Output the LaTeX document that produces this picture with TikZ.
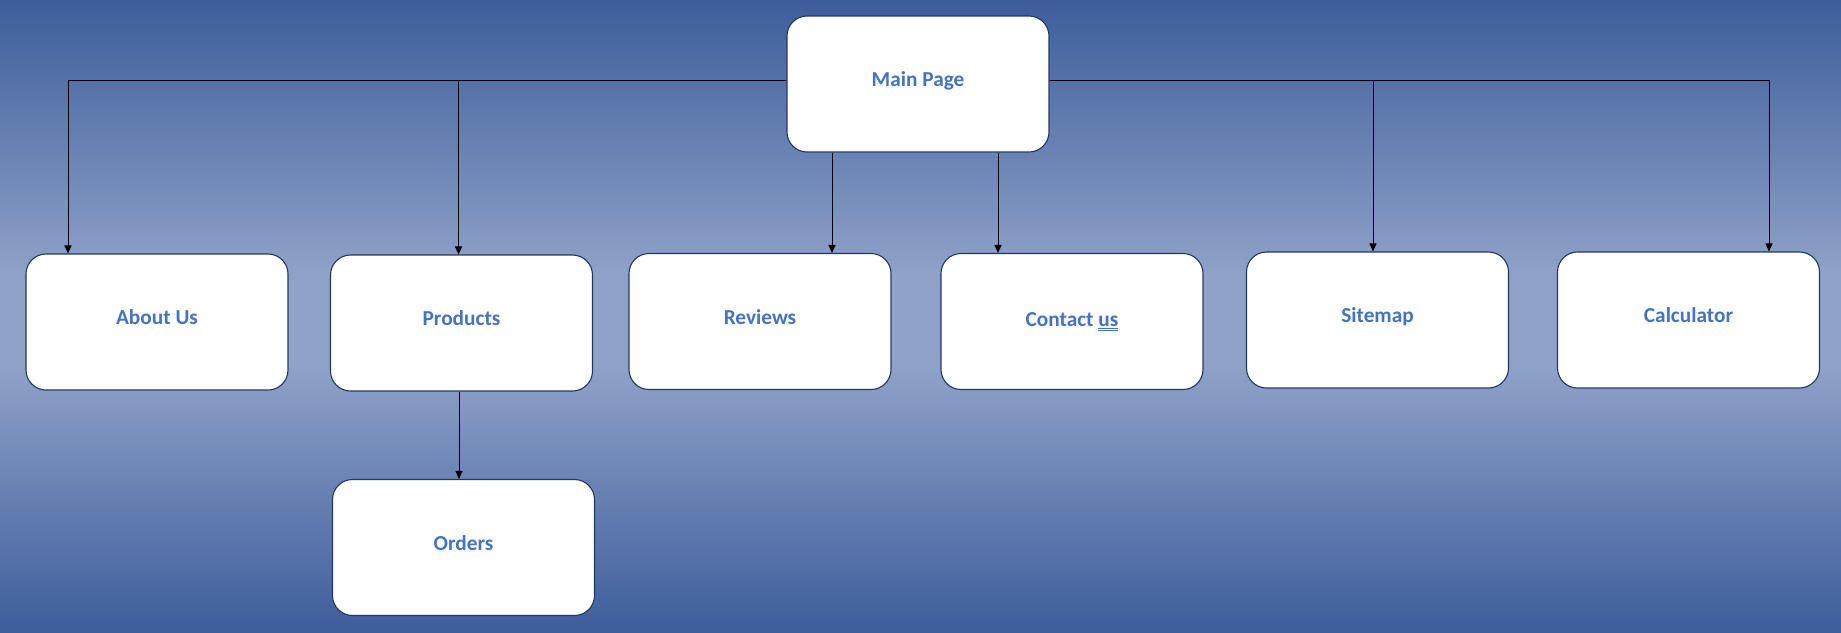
\documentclass[tikz,border=0pt]{standalone}
\usepackage{fontspec}
\setmainfont{Carlito}
\usetikzlibrary{arrows.meta}
\definecolor{bgdark}{RGB}{61,93,155}
\definecolor{bglight}{RGB}{143,162,200}
\definecolor{boxline}{RGB}{31,56,100}
\definecolor{txtblue}{RGB}{68,114,196}
\newcommand\dblul[1]{\leavevmode\vtop{\hbox{#1}\kern1.6pt\hrule height0.9pt\kern1.3pt\hrule height0.9pt}}
\begin{document}
\begin{tikzpicture}[x=1pt,y=-1pt,
  pagebox/.style={draw=boxline, line width=1.1pt, fill=white, rounded corners=20pt,
    minimum width=262pt, minimum height=136pt, inner sep=0pt,
    text height=13pt, text depth=8pt,
    text=txtblue, font=\fontsize{21.3}{25}\selectfont\bfseries},
  conn/.style={draw=black, line width=1pt, -{Triangle[length=8pt,width=7pt]}}]
\useasboundingbox (0,0) rectangle (1841,632);
\shade[top color=bgdark, bottom color=bglight] (0,0) rectangle (1841,275);
\fill[bglight] (0,274) rectangle (1841,366);
\shade[top color=bglight, bottom color=bgdark] (0,365) rectangle (1841,632);

\node[pagebox] (main) at (918,84) {Main Page};
\node[pagebox] (about) at (157,322) {About Us};
\node[pagebox] (products) at (461.5,323) {Products};
\node[pagebox] (orders) at (463.5,547.5) {Orders};
\node[pagebox] (reviews) at (760,321.5) {Reviews};
\node[pagebox, text height=18pt] (contact) at (1072,321.5) {Contact \dblul{us}};
\node[pagebox] (sitemap) at (1377.5,320) {Sitemap};
\node[pagebox] (calc) at (1688.5,320) {Calculator};

\coordinate (L) at ([yshift=4pt]main.west);
\coordinate (R) at ([yshift=4pt]main.east);
\draw[conn] (L) -| ([xshift=-89pt]about.north);
\draw[conn] ([xshift=-3pt]products.north |- L) -- ([xshift=-3pt]products.north);
\draw[conn] ([xshift=72pt]reviews.north |- main.south) -- ([xshift=72pt]reviews.north);
\draw[conn] ([xshift=-74pt]contact.north |- main.south) -- ([xshift=-74pt]contact.north);
\draw[conn] (R) -| ([xshift=80.5pt]calc.north);
\draw[conn] ([xshift=-4.5pt]sitemap.north |- R) -- ([xshift=-4.5pt]sitemap.north);
\draw[conn] ([xshift=-2.5pt]products.south) -- ([xshift=-4.5pt]orders.north);
\end{tikzpicture}
\end{document}
